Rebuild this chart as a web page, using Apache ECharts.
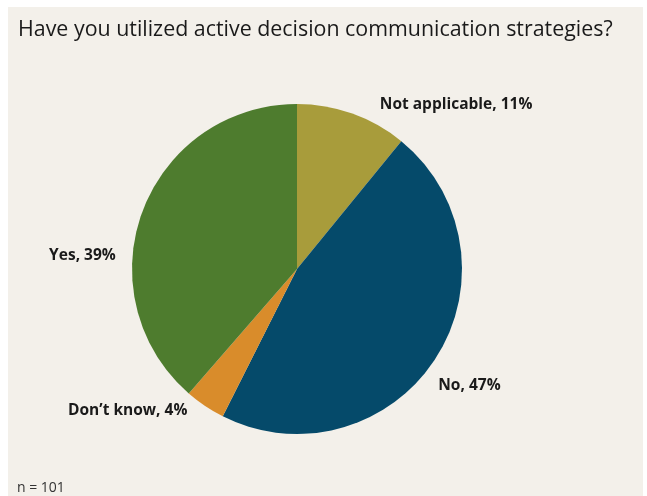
<!DOCTYPE html>
<html><head><meta charset="utf-8">
<script src="https://cdn.jsdelivr.net/npm/echarts@6/dist/echarts.min.js"></script>
<style>html,body{margin:0;padding:0;background:#fff;}#c{width:647px;height:496px;}</style>
</head><body><div id="c"></div>
<script>
const categories = ['Not applicable', 'No', "Don\u2019t know", 'Yes'];
const values = [11, 47, 4, 39];
const colors = ['#a89c3b', '#054a6a', '#d98c2b', '#4e7c2e'];
const titleText = 'Have you utilized active decision communication strategies?';
const noteText = 'n = 101';
// label placement: [angle from 12 o'clock in degrees, distance from centre in px]
const labelPlace = [[44, 229], [124, 208], [230, 221], [273.7, 215]];
const cx = 297, cy = 269;

const chart = echarts.init(document.getElementById('c'), null, {renderer: 'canvas'});
chart.setOption({
  backgroundColor: '#ffffff',
  animation: false,
  graphic: [
    {type: 'rect', left: 8, top: 7, shape: {width: 635, height: 489}, style: {fill: '#f3f0ea'}, z: -10},
    {type: 'text', left: 18, top: 19, style: {text: titleText, font: '21.4px "Open Sans", sans-serif', fill: '#1a1a1a'}},
    {type: 'text', left: 17, top: 481, style: {text: noteText, font: '14px "Open Sans", sans-serif', fill: '#333'}}
  ],
  series: [{
    type: 'pie',
    center: [cx, cy],
    radius: [0, 165],
    startAngle: 90,
    clockwise: true,
    data: categories.map((c, i) => ({name: c, value: values[i], itemStyle: {color: colors[i]}})),
    label: {
      show: true,
      position: 'outside',
      formatter: p => p.name + ', ' + p.value + '%',
      color: '#1a1a1a',
      fontWeight: 'bold',
      fontSize: 15.5,
      fontFamily: '"Open Sans", sans-serif'
    },
    labelLine: {show: false},
    labelLayout: function (params) {
      const pl = labelPlace[params.dataIndex];
      const a = pl[0] * Math.PI / 180;
      return {
        x: cx + Math.sin(a) * pl[1],
        y: cy - Math.cos(a) * pl[1],
        align: 'center',
        verticalAlign: 'middle'
      };
    },
    emphasis: {disabled: true}
  }]
});
</script></body></html>
